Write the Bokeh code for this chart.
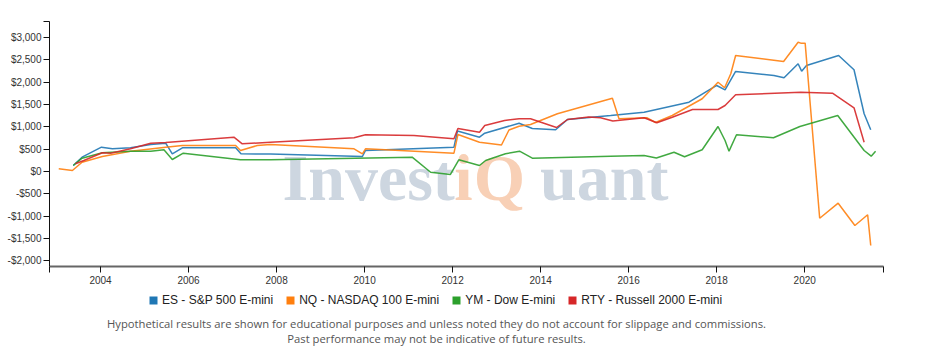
from bokeh.plotting import figure
from bokeh.layouts import column
from bokeh.models import (Range1d, FixedTicker, CustomJSTickFormatter, Legend,
                          LegendItem, Label)
from bokeh.embed import file_html
from bokeh.resources import INLINE

# ---------------- data ----------------
series_names = ["ES - S&P 500 E-mini", "NQ - NASDAQ 100 E-mini",
                "YM - Dow E-mini", "RTY - Russell 2000 E-mini"]
series_colors = ["#1f77b4", "#ff7f0e", "#2ca02c", "#d62728"]

es_years = [2003.38, 2003.58, 2004.02, 2004.27, 2004.68, 2005.14, 2005.48, 2005.63,
            2005.86, 2007.07, 2007.19, 2007.86, 2009.95, 2010.02, 2012.03, 2012.11,
            2012.61, 2012.73, 2013.51, 2013.81, 2014.34, 2014.61, 2015.59, 2016.35,
            2017.37, 2018.0, 2018.19, 2018.43, 2019.3, 2019.53, 2019.85, 2019.93,
            2020.04, 2020.77, 2021.12, 2021.35, 2021.5]
es_values = [134, 320, 544, 508, 531, 605, 634, 396,
             531, 531, 396, 390, 336, 470, 544, 907,
             768, 858, 1081, 963, 934, 1164, 1254, 1328,
             1552, 1926, 1829, 2239, 2149, 2098, 2411, 2246,
             2373, 2597, 2277, 1292, 934]

nq_years = [2003.05, 2003.36, 2003.58, 2004.04, 2004.68, 2005.48, 2005.86, 2007.07,
            2007.18, 2007.56, 2007.86, 2009.76, 2009.95, 2010.02, 2012.03, 2012.12,
            2012.61, 2013.11, 2013.28, 2013.51, 2013.77, 2014.38, 2015.63, 2015.78,
            2016.42, 2016.61, 2016.99, 2017.67, 2018.03, 2018.18, 2018.32, 2018.43,
            2019.52, 2019.85, 2019.91, 2020.01, 2020.34, 2020.76, 2021.14, 2021.43,
            2021.5]
nq_values = [60, 22, 208, 336, 455, 544, 582, 582,
             470, 582, 605, 508, 396, 508, 410, 828,
             656, 593, 929, 1014, 1052, 1292, 1641, 1180,
             1202, 1097, 1254, 1628, 1999, 1874, 2188, 2597,
             2463, 2895, 2873, 2873, -1046, -710, -1209, -969,
             -1657]

ym_years = [2003.38, 2003.58, 2004.04, 2004.68, 2005.14, 2005.44, 2005.63, 2005.88,
            2007.18, 2007.86, 2011.08, 2011.5, 2011.95, 2012.14, 2012.61, 2012.75,
            2013.2, 2013.52, 2013.81, 2015.59, 2016.35, 2016.63, 2017.03, 2017.27,
            2017.67, 2018.03, 2018.19, 2018.28, 2018.45, 2019.29, 2019.89, 2020.75,
            2021.35, 2021.51, 2021.61]
ym_values = [134, 298, 419, 455, 455, 486, 269, 410,
             262, 262, 320, -16, -67, 262, 134, 246,
             396, 455, 298, 343, 358, 302, 432, 329,
             486, 1008, 694, 455, 822, 755, 1008, 1254,
             470, 343, 455]

rty_years = [2003.43, 2003.62, 2004.04, 2004.23, 2004.68, 2005.14, 2005.48, 2007.03,
             2007.22, 2007.86, 2009.76, 2010.02, 2011.12, 2012.03, 2012.12, 2012.61,
             2012.73, 2013.18, 2013.51, 2013.77, 2014.36, 2014.61, 2015.09, 2015.36,
             2015.64, 2016.35, 2016.64, 2016.99, 2017.45, 2018.03, 2018.19, 2018.43,
             2019.91, 2020.63, 2021.12, 2021.35]
rty_values = [172, 246, 419, 410, 508, 634, 649, 768,
              620, 656, 755, 822, 806, 732, 963, 880,
              1030, 1142, 1180, 1180, 985, 1164, 1220, 1202,
              1131, 1202, 1090, 1216, 1388, 1388, 1478, 1717,
              1776, 1753, 1426, 656]

x_tick_values = [2004, 2006, 2008, 2010, 2012, 2014, 2016, 2018, 2020]
x_tick_labels = ["2004", "2006", "2008", "2010", "2012", "2014", "2016", "2018", "2020"]
y_tick_values = [-2000, -1500, -1000, -500, 0, 500, 1000, 1500, 2000, 2500, 3000]
y_tick_labels = ["-$2,000", "-$1,500", "-$1,000", "-$500", "$0", "$500", "$1,000",
                 "$1,500", "$2,000", "$2,500", "$3,000"]

footnote_lines = [
    "Hypothetical results are shown for educational purposes and unless noted they do not account for slippage and commissions.",
    "Past performance may not be indicative of future results.",
]

# ---------------- main figure ----------------
X0, X1 = 2002.84, 2021.79
Y0, Y1 = -2127, 3358

p = figure(width=933, height=290, output_backend="svg", toolbar_location=None,
           x_range=Range1d(X0, X1), y_range=Range1d(Y0, Y1),
           min_border_left=49, min_border_right=50, min_border_top=21,
           min_border_bottom=24, background_fill_color="white",
           border_fill_color="white")
p.xgrid.visible = False
p.ygrid.visible = False
p.outline_line_color = None

fmt_code = "const i = tv.indexOf(tick); return i >= 0 ? lv[i] : '';"

xax = p.xaxis[0]
xax.ticker = FixedTicker(ticks=x_tick_values + [X0, X1], minor_ticks=[])
xax.formatter = CustomJSTickFormatter(args=dict(tv=x_tick_values, lv=x_tick_labels),
                                      code=fmt_code)
xax.axis_line_color = "#666666"
xax.axis_line_width = 2
xax.major_tick_line_color = "#111111"
xax.major_tick_out = 6
xax.major_tick_in = 0
xax.minor_tick_out = 0
xax.minor_tick_in = 0
xax.major_label_standoff = 3
xax.major_label_text_font = "Liberation Sans"
xax.major_label_text_font_size = "10px"
xax.major_label_text_color = "#333333"

yax = p.yaxis[0]
yax.ticker = FixedTicker(ticks=y_tick_values + [Y1], minor_ticks=[])
yax.formatter = CustomJSTickFormatter(args=dict(tv=y_tick_values, lv=y_tick_labels),
                                      code=fmt_code)
yax.axis_line_color = "#111111"
yax.axis_line_width = 1
yax.major_tick_line_color = "#111111"
yax.major_tick_out = 6
yax.major_tick_in = 0
yax.minor_tick_out = 0
yax.minor_tick_in = 0
yax.major_label_standoff = 2
yax.major_label_text_font = "Liberation Sans"
yax.major_label_text_font_size = "10px"
yax.major_label_text_color = "#333333"

# watermark
wm_font = "Liberation Serif"
wm_size = "66px"
wm_grey = "#cdd6e0"
wm_orange = "#f8d0b6"
for txt, sx, align, col in [("Invest", 233, "left", wm_grey),
                            ("i", 414, "center", wm_orange),
                            ("Q", 450, "center", wm_orange),
                            ("uant", 619, "right", wm_grey)]:
    p.add_layout(Label(x=sx, y=89, x_units="screen", y_units="screen", text=txt,
                       text_font=wm_font, text_font_size=wm_size,
                       text_font_style="bold", text_color=col,
                       text_align=align, text_baseline="alphabetic",
                       level="underlay"))

# lines
all_years = [es_years, nq_years, ym_years, rty_years]
all_values = [es_values, nq_values, ym_values, rty_values]
for yrs, vals, c in zip(all_years, all_values, series_colors):
    p.line(x=yrs, y=vals, line_color=c, line_width=1.5, line_alpha=0.9)

# ---------------- legend + footnote figure ----------------
f = figure(width=933, height=72, output_backend="svg", toolbar_location=None,
           x_range=Range1d(0, 933), y_range=Range1d(0, 72),
           min_border=0, min_border_left=0, min_border_right=0,
           min_border_top=0, min_border_bottom=0,
           background_fill_color="white", border_fill_color="white")
f.axis.visible = False
f.xgrid.visible = False
f.ygrid.visible = False
f.outline_line_color = None

# legend swatches: zero-area quads at each series' first point (outside this
# panel's ranges, so only the legend swatch is visible)
items = []
for name, c, yrs, vals in zip(series_names, series_colors, all_years, all_values):
    r = f.quad(left=[yrs[0]], right=[yrs[0]], top=[vals[0]], bottom=[vals[0]],
               fill_color=c, line_color=None)
    items.append(LegendItem(label=name, renderers=[r]))
legend = Legend(items=items, orientation="horizontal", location=(99, 55),
                glyph_width=10, glyph_height=10, label_standoff=4, spacing=12,
                padding=0, margin=0, label_height=10,
                label_text_font="Liberation Sans", label_text_font_size="12px",
                label_text_color="#222222", background_fill_alpha=0,
                border_line_alpha=0)
f.add_layout(legend)

for i, line in enumerate(footnote_lines):
    f.add_layout(Label(x=387, y=39 - 15 * i, x_units="screen", y_units="screen",
                       text=line, text_font="Open Sans", text_font_size="11.25px",
                       text_color="#555555", text_align="center",
                       text_baseline="middle"))

layout = column(p, f, spacing=0)
open("out.html", "w").write(file_html(layout, INLINE))
